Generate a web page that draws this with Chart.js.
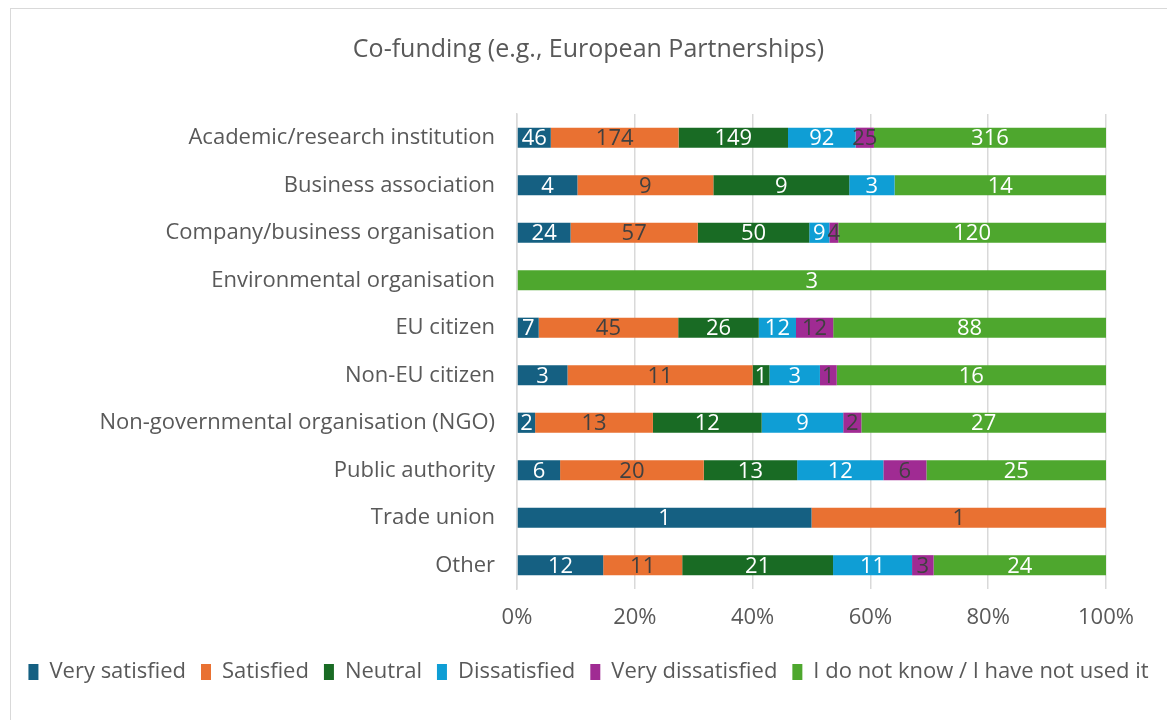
<!DOCTYPE html>
<html>
<head>
<meta charset="utf-8">
<script src="https://cdn.jsdelivr.net/npm/chart.js@4"></script>
<style>
  html, body { margin: 0; padding: 0; background: #fff; }
  #wrap { position: relative; width: 1167px; height: 720px; }
  #frame { position: absolute; left: 10px; top: 8px; width: 1157px; height: 712px;
           border-left: 1px solid #d9d9d9; border-top: 1px solid #d9d9d9; box-sizing: border-box; }
  canvas { position: absolute; left: 0; top: 0; }
</style>
</head>
<body>
<div id="wrap">
  <div id="frame"></div>
  <canvas id="chart" width="1167" height="720"></canvas>
</div>
<script>
// kategori dan nilai per jawaban
const categories = [
  "Academic/research institution",
  "Business association",
  "Company/business organisation",
  "Environmental organisation",
  "EU citizen",
  "Non-EU citizen",
  "Non-governmental organisation (NGO)",
  "Public authority",
  "Trade union",
  "Other"
];
const seriesNames = ["Very satisfied", "Satisfied", "Neutral", "Dissatisfied", "Very dissatisfied", "I do not know / I have not used it"];
const verySatisfied    = [46, 4, 24, 0, 7, 3, 2, 6, 1, 12];
const satisfied        = [174, 9, 57, 0, 45, 11, 13, 20, 1, 11];
const neutral          = [149, 9, 50, 0, 26, 1, 12, 13, 0, 21];
const dissatisfied     = [92, 3, 9, 0, 12, 3, 9, 12, 0, 11];
const veryDissatisfied = [25, 0, 4, 0, 12, 1, 2, 6, 0, 3];
const dontKnow         = [316, 14, 120, 3, 88, 16, 27, 25, 0, 24];
const xTicks = [0, 20, 40, 60, 80, 100];

const seriesValues = [verySatisfied, satisfied, neutral, dissatisfied, veryDissatisfied, dontKnow];
const colors = ['#156082', '#E97132', '#196B24', '#0F9ED5', '#A02B93', '#4EA72E'];
const labelColors = ['#ffffff', '#404040', '#ffffff', '#ffffff', '#404040', '#ffffff'];

// total per kategori untuk persen
const totals = categories.map((c, i) => seriesValues.reduce((s, arr) => s + arr[i], 0));

const FONT = "'Open Sans', 'Liberation Sans', sans-serif";

// plugin untuk menulis angka di tengah batang
const valueLabels = {
  id: 'valueLabels',
  afterDatasetsDraw(chart) {
    const ctx = chart.ctx;
    ctx.save();
    ctx.font = '22px ' + FONT;
    ctx.textAlign = 'center';
    ctx.textBaseline = 'middle';
    chart.data.datasets.forEach((ds, di) => {
      const meta = chart.getDatasetMeta(di);
      meta.data.forEach((bar, i) => {
        const raw = ds.raw[i];
        if (!raw) return;
        ctx.fillStyle = labelColors[di];
        ctx.fillText(String(raw), (bar.x + bar.base) / 2, bar.y + 1);
      });
    });
    ctx.restore();
  }
};

const datasets = seriesNames.map((name, di) => ({
  label: name,
  raw: seriesValues[di],
  data: seriesValues[di].map((v, i) => v / totals[i] * 100),
  backgroundColor: colors[di],
  borderWidth: 0,
  barPercentage: 0.85,
  categoryPercentage: 0.5
}));

Chart.defaults.font.family = FONT;
Chart.defaults.color = '#595959';

new Chart(document.getElementById('chart').getContext('2d'), {
  type: 'bar',
  data: { labels: categories, datasets: datasets },
  plugins: [valueLabels],
  options: {
    indexAxis: 'y',
    responsive: false,
    animation: false,
    layout: { padding: { left: 10, right: 0, top: 0, bottom: 27 } },
    plugins: {
      title: {
        display: true,
        text: 'Co-funding (e.g., European Partnerships)',
        font: { size: 25, weight: 'normal' },
        color: '#595959',
        padding: { top: 35, bottom: 49 }
      },
      legend: {
        position: 'bottom',
        labels: {
          font: { size: 22 },
          color: '#595959',
          boxWidth: 10,
          boxHeight: 16,
          padding: 15
        }
      },
      tooltip: { enabled: false }
    },
    scales: {
      x: {
        stacked: true,
        min: 0,
        max: 100,
        afterBuildTicks(scale) {
          scale.ticks = xTicks.map(v => ({ value: v }));
        },
        afterFit(scale) { scale.height = 57; },
        ticks: {
          font: { size: 22 },
          color: '#595959',
          padding: 16,
          callback: v => v + '%'
        },
        grid: { color: '#d9d9d9', lineWidth: 1.5, drawTicks: false },
        border: { display: false }
      },
      y: {
        stacked: true,
        afterFit(scale) { scale.width = 507; },
        ticks: {
          font: { size: 22 },
          color: '#595959',
          padding: 22
        },
        grid: { display: false, drawTicks: false },
        border: { display: true, color: '#d9d9d9', width: 1.5 }
      },
      // sumbu kosong di kanan, hanya untuk memberi ruang
      yRight: {
        position: 'right',
        afterFit(scale) { scale.width = 61; },
        ticks: { display: false },
        grid: { display: false, drawTicks: false },
        border: { display: false }
      }
    }
  }
});
</script>
</body>
</html>
